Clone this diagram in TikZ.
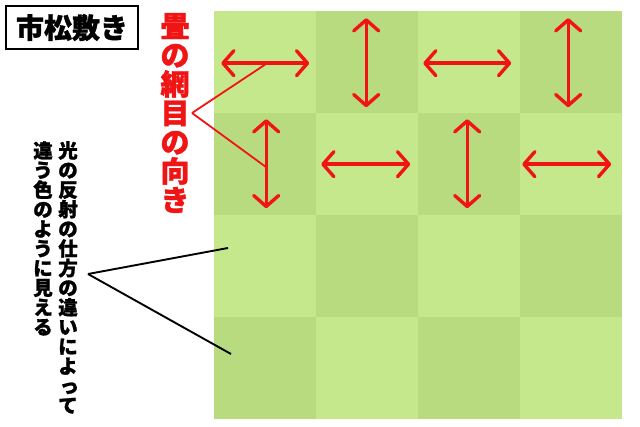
\documentclass[tikz,border=0pt]{standalone}
\usepackage{fontspec}
\newfontfamily\jp{Noto Sans CJK JP}
\newfontfamily\jpheavy[BoldFeatures={FakeBold=1.2}]{Noto Sans CJK JP}
\usetikzlibrary{arrows.meta,calc}
\definecolor{tlight}{RGB}{198,232,141}
\definecolor{tdark}{RGB}{185,219,128}
\definecolor{ared}{RGB}{240,20,20}
\newcommand{\smallkana}[1]{\makebox[1em]{\hspace{0.14em}#1}}
\begin{document}
\begin{tikzpicture}[x=1pt,y=-1pt,
  cell/.style={draw=none,minimum width=102pt,minimum height=102pt,inner sep=0,anchor=north west},
  lightcell/.style={cell,fill=tlight},
  darkcell/.style={cell,fill=tdark},
  grainarrow/.style={draw=ared,line width=3.4pt,line cap=round,{Straight Barb[length=11pt,width=25pt,round]}-{Straight Barb[length=11pt,width=25pt,round]}},
  redlead/.style={draw=ared,line width=1.8pt},
  blacklead/.style={draw=black,line width=1.9pt},
  vtext/.style={align=center,inner sep=0,font=\jp\bfseries}
]
\useasboundingbox (0,0) rectangle (640,427);
\fill[white] (0,0) rectangle (640,427);

% tatami cells
\foreach \r in {1,...,4}{
  \foreach \c in {1,...,4}{
    \pgfmathtruncatemacro{\parity}{mod(\r+\c,2)}
    \ifnum\parity=0
      \node[lightcell] (c\r\c) at ({214+(\c-1)*102},{11+(\r-1)*102}) {};
    \else
      \node[darkcell] (c\r\c) at ({214+(\c-1)*102},{11+(\r-1)*102}) {};
    \fi
  }
}

% grain arrows
\draw[grainarrow] ($(c11.center)+(-44,1)$) -- ($(c11.center)+(44,1)$);
\draw[grainarrow] ($(c12.center)+(-1,-44)$) -- ($(c12.center)+(-1,45)$);
\draw[grainarrow] ($(c13.center)+(-46,1)$) -- ($(c13.center)+(42,1)$);
\draw[grainarrow] ($(c14.center)+(-3,-44)$) -- ($(c14.center)+(-3,45)$);
\draw[grainarrow] ($(c21.center)+(1,-45)$) -- ($(c21.center)+(1,44)$);
\draw[grainarrow] ($(c22.center)+(-46,0)$) -- ($(c22.center)+(43,0)$);
\draw[grainarrow] ($(c23.center)+(-2,-45)$) -- ($(c23.center)+(-2,44)$);
\draw[grainarrow] ($(c24.center)+(-49,0)$) -- ($(c24.center)+(40,0)$);

% title
\node[draw=black,line width=2.8pt,minimum width=132pt,minimum height=43pt,inner sep=0,
      font=\jpheavy\bfseries\fontsize{28}{28}\selectfont] (title) at (72,27.5) {市松敷き};

% red label
\node[vtext,text=ared,font=\jpheavy\bfseries\fontsize{29}{29}\selectfont] (grain) at (175,113)
  {畳\\の\\網\\目\\の\\向\\き};
\coordinate (gtip) at (192,113);
\draw[redlead] (gtip) -- ($(c11.center)+(2,1)$);
\draw[redlead] (gtip) -- ($(c21.center)+(1,3)$);

% black explanation
\node[vtext,anchor=north,font=\jpheavy\bfseries\fontsize{19.5}{19.6}\selectfont] (exp1) at (68,141)
  {光\\の\\反\\射\\の\\仕\\方\\の\\違\\い\\に\\よ\\\smallkana{っ}\\て};
\node[vtext,anchor=north,font=\jpheavy\bfseries\fontsize{19.5}{19.6}\selectfont] (exp2) at (43,141)
  {違\\う\\色\\の\\よ\\う\\に\\見\\え\\る};
\coordinate (btip) at (88,274);
\coordinate (b1) at (228,248);
\coordinate (b2) at (231,354);
\draw[blacklead] (btip) -- (b1);
\draw[blacklead] (btip) -- (b2);
\end{tikzpicture}
\end{document}
